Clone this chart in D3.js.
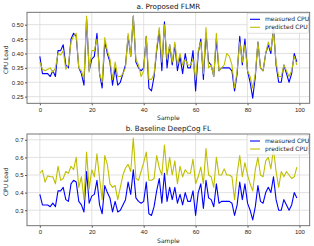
<!DOCTYPE html>
<html>
<head>
<meta charset="UTF-8">
<script src="https://d3js.org/d3.v7.min.js"></script>
<style>
  body { margin: 0; background: #fff; overflow: hidden; }
  svg { display: block; font-family: 'DejaVu Sans', sans-serif; }
  .grid line { stroke: #d9d9d9; stroke-width: 0.8px; }
  .tick text { fill: #222; font-size: 6px; }
  .tick line { stroke: #555; }
</style>
</head>
<body>
<svg id="chart" width="314" height="246"></svg>
<script>
// sample index 0..99
const samples = d3.range(100);

const measuredCPU = [
  0.39, 0.33, 0.33, 0.33, 0.32, 0.34, 0.32, 0.41, 0.41, 0.43,
  0.36, 0.35, 0.45, 0.47, 0.46, 0.35, 0.33, 0.29, 0.52, 0.34,
  0.38, 0.39, 0.47, 0.33, 0.28, 0.44, 0.40, 0.37, 0.29, 0.35,
  0.29, 0.30, 0.33, 0.36, 0.46, 0.39, 0.53, 0.37, 0.35, 0.34,
  0.35, 0.46, 0.28, 0.27, 0.32, 0.41, 0.48, 0.34, 0.51, 0.35,
  0.43, 0.36, 0.43, 0.34, 0.39, 0.33, 0.40, 0.35, 0.35, 0.41,
  0.27, 0.40, 0.45, 0.31, 0.47, 0.37, 0.36, 0.32, 0.45, 0.34,
  0.35, 0.35, 0.35, 0.35, 0.34, 0.27, 0.33, 0.46, 0.36, 0.45,
  0.34, 0.30, 0.245, 0.32, 0.44, 0.35, 0.34, 0.40, 0.43, 0.40,
  0.49, 0.36, 0.30, 0.30, 0.36, 0.33, 0.30, 0.33, 0.40, 0.37
];

const predictedFLMR = [
  0.37, 0.345, 0.34, 0.345, 0.35, 0.335, 0.35, 0.40, 0.395, 0.41,
  0.345, 0.36, 0.44, 0.46, 0.47, 0.35, 0.34, 0.31, 0.53, 0.335,
  0.41, 0.41, 0.45, 0.33, 0.30, 0.455, 0.41, 0.38, 0.31, 0.37,
  0.32, 0.32, 0.33, 0.35, 0.47, 0.39, 0.53, 0.38, 0.36, 0.32,
  0.34, 0.46, 0.31, 0.31, 0.33, 0.42, 0.49, 0.37, 0.50, 0.38,
  0.43, 0.37, 0.44, 0.36, 0.40, 0.36, 0.38, 0.36, 0.36, 0.38,
  0.31, 0.41, 0.44, 0.33, 0.49, 0.35, 0.36, 0.32, 0.47, 0.34,
  0.35, 0.36, 0.40, 0.39, 0.36, 0.28, 0.34, 0.44, 0.37, 0.43,
  0.34, 0.32, 0.28, 0.33, 0.44, 0.35, 0.34, 0.40, 0.44, 0.41,
  0.48, 0.37, 0.32, 0.32, 0.36, 0.34, 0.32, 0.34, 0.39, 0.36
];

const predictedDeepCog = [
  0.51, 0.527, 0.46, 0.495, 0.49, 0.49, 0.45, 0.55, 0.47, 0.48,
  0.52, 0.51, 0.55, 0.53, 0.60, 0.43, 0.49, 0.36, 0.63, 0.42,
  0.53, 0.49, 0.62, 0.48, 0.36, 0.61, 0.56, 0.45, 0.43, 0.44,
  0.36, 0.43, 0.50, 0.54, 0.56, 0.52, 0.71, 0.48, 0.47, 0.52,
  0.57, 0.63, 0.47, 0.47, 0.48, 0.61, 0.54, 0.50, 0.67, 0.50,
  0.60, 0.50, 0.58, 0.45, 0.55, 0.49, 0.53, 0.51, 0.51, 0.59,
  0.45, 0.49, 0.545, 0.45, 0.65, 0.50, 0.49, 0.43, 0.60, 0.50,
  0.50, 0.535, 0.50, 0.50, 0.49, 0.36, 0.51, 0.61, 0.49, 0.57,
  0.50, 0.45, 0.41, 0.53, 0.60, 0.50, 0.49, 0.58, 0.60, 0.535,
  0.65, 0.52, 0.43, 0.52, 0.49, 0.52, 0.50, 0.48, 0.49, 0.545
];

const xTicks = [0, 20, 40, 60, 80, 100];
const yTicksTop = [0.25, 0.30, 0.35, 0.40, 0.45, 0.50];
const yTicksBottom = [0.3, 0.4, 0.5, 0.6, 0.7];
const seriesNames = ["measured CPU", "predicted CPU"];
const seriesColors = ["#0000ff", "#bfbf00"];

const svg = d3.select("#chart");

function drawPanel(cfg) {
  const { top, bottom, title, predicted, yDomain, yTicks, yFmt } = cfg;
  const left = 27, right = 309.7;

  const x = d3.scaleLinear().domain([-4.95, 103.95]).range([left, right]);
  const y = d3.scaleLinear().domain(yDomain).range([bottom, top]);

  const g = svg.append("g");

  // grid
  const grid = g.append("g").attr("class", "grid");
  grid.selectAll(".gx").data(xTicks).join("line")
    .attr("x1", d => x(d)).attr("x2", d => x(d))
    .attr("y1", top).attr("y2", bottom);
  grid.selectAll(".gy").data(yTicks).join("line")
    .attr("x1", left).attr("x2", right)
    .attr("y1", d => y(d)).attr("y2", d => y(d));

  // axes
  const xAxis = g.append("g")
    .attr("transform", `translate(0,${bottom})`)
    .call(d3.axisBottom(x).tickValues(xTicks).tickSize(2).tickPadding(2).tickFormat(d3.format("d")));
  xAxis.select(".domain").remove();

  const yAxis = g.append("g")
    .attr("transform", `translate(${left},0)`)
    .call(d3.axisLeft(y).tickValues(yTicks).tickSize(2).tickPadding(1.5).tickFormat(d3.format(yFmt)));
  yAxis.select(".domain").remove();

  // lines
  const line = vals => d3.line()
    .x((d, i) => x(samples[i]))
    .y(d => y(d))(vals);

  const clipId = "clip" + Math.round(top);
  g.append("clipPath").attr("id", clipId)
    .append("rect").attr("x", left).attr("y", top)
    .attr("width", right - left).attr("height", bottom - top);

  [measuredCPU, predicted].forEach((vals, k) => {
    g.append("path")
      .attr("clip-path", `url(#${clipId})`)
      .attr("d", line(vals))
      .attr("fill", "none")
      .attr("stroke", seriesColors[k])
      .attr("stroke-width", 1.1)
      .attr("stroke-linejoin", "round");
  });

  // frame
  g.append("rect")
    .attr("x", left).attr("y", top)
    .attr("width", right - left).attr("height", bottom - top)
    .attr("fill", "none").attr("stroke", "#666").attr("stroke-width", 0.9);

  // title and labels
  g.append("text")
    .attr("x", (left + right) / 2).attr("y", top - 3)
    .attr("text-anchor", "middle")
    .attr("font-size", 7.2).attr("fill", "#111")
    .text(title);

  g.append("text")
    .attr("x", (left + right) / 2).attr("y", bottom + 17)
    .attr("text-anchor", "middle")
    .attr("font-size", 6).attr("fill", "#222")
    .text("Sample");

  g.append("text")
    .attr("transform", `translate(8,${(top + bottom) / 2 + 2}) rotate(-90)`)
    .attr("text-anchor", "middle")
    .attr("font-size", 6).attr("fill", "#222")
    .text("CPU Load");

  // legend
  const lg = g.append("g").attr("transform", `translate(247,${top + 1})`);
  lg.append("rect")
    .attr("width", 61.5).attr("height", 20)
    .attr("rx", 1.5)
    .attr("fill", "#fff").attr("fill-opacity", 0.85)
    .attr("stroke", "#ccc").attr("stroke-width", 0.6);
  seriesNames.forEach((name, k) => {
    const yy = 6 + k * 8;
    lg.append("line")
      .attr("x1", 3).attr("x2", 13).attr("y1", yy).attr("y2", yy)
      .attr("stroke", seriesColors[k]).attr("stroke-width", 1.1);
    lg.append("text")
      .attr("x", 18).attr("y", yy + 2)
      .attr("font-size", 6).attr("fill", "#222")
      .text(name);
  });
}

drawPanel({
  top: 12.3, bottom: 103.3,
  title: "a. Proposed FLMR",
  predicted: predictedFLMR,
  yDomain: [0.227, 0.543],
  yTicks: yTicksTop,
  yFmt: ".2f"
});

drawPanel({
  top: 134, bottom: 225.7,
  title: "b. Baseline DeepCog FL",
  predicted: predictedDeepCog,
  yDomain: [0.212, 0.733],
  yTicks: yTicksBottom,
  yFmt: ".1f"
});
</script>
</body>
</html>
